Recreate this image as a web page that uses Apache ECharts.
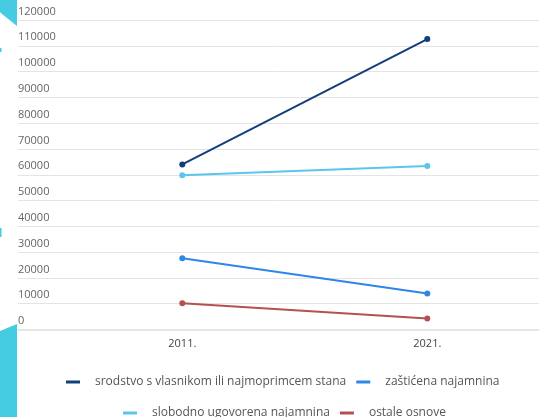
<!DOCTYPE html>
<html>
<head>
<meta charset="utf-8">
<script src="https://cdn.jsdelivr.net/npm/echarts@6/dist/echarts.min.js"></script>
<style>
  html, body { margin: 0; padding: 0; background: #fff; }
  #chart { width: 539px; height: 417px; }
</style>
</head>
<body>
<div id="chart"></div>
<script>
const years = ['2011.', '2021.']
const seriesNames = [
  'srodstvo s vlasnikom ili najmoprimcem stana',
  'zaštićena najamnina',
  'slobodno ugovorena najamnina',
  'ostale osnove',
]
const srodstvo = [64000, 112600]
const zasticena = [27600, 14000]
const slobodno = [59800, 63400]
const ostale = [10200, 4300]

const colors = ['#123f7c', '#2e86e8', '#5cc5ec', '#b4514f']
const values = [srodstvo, zasticena, slobodno, ostale]

const chart = echarts.init(document.getElementById('chart'))

const legendText = { fontFamily: 'Open Sans', fontSize: 12, color: '#555', padding: [0, 0, 0, 10] }

chart.setOption({
  backgroundColor: '#fff',
  animation: false,
  textStyle: { fontFamily: 'Open Sans' },
  grid: { top: 20, left: 18, right: 0, bottom: 87.5, containLabel: false },
  graphic: [
    { type: 'polygon', shape: { points: [[0, 0], [17, 0], [17, 26], [2, 14], [0, 12]] }, style: { fill: '#45cbe2' } },
    { type: 'rect', shape: { x: 0, y: 48, width: 1.5, height: 4 }, style: { fill: '#45cbe2' } },
    { type: 'rect', shape: { x: 0, y: 228, width: 1.5, height: 9 }, style: { fill: '#45cbe2' } },
    { type: 'polygon', shape: { points: [[0, 331], [17, 324], [17, 417], [0, 417]] }, style: { fill: '#45cbe2' } },
  ],
  legend: [
    {
      data: [seriesNames[0], seriesNames[1]],
      top: 376,
      left: 66,
      padding: 0,
      itemWidth: 14,
      itemHeight: 3,
      itemGap: 10,
      icon: 'rect',
      textStyle: legendText,
    },
    {
      data: [seriesNames[2], seriesNames[3]],
      top: 407,
      left: 123,
      padding: 0,
      itemWidth: 14,
      itemHeight: 3,
      itemGap: 10,
      icon: 'rect',
      textStyle: legendText,
    },
  ],
  xAxis: {
    type: 'value',
    min: -0.6706,
    max: 1.456,
    axisLine: { show: true, lineStyle: { color: '#e2e2e2', width: 1.5 } },
    axisTick: { show: false },
    splitLine: { show: false },
    axisLabel: {
      customValues: [0, 1],
      formatter: (v) => years[Math.round(v)],
      color: '#444',
      fontSize: 11,
      margin: 9,
    },
  },
  yAxis: {
    type: 'value',
    min: 0,
    max: 120000,
    interval: 10000,
    axisLine: { show: false },
    axisTick: { show: false },
    splitLine: { lineStyle: { color: '#e4e4e4', width: 1 } },
    axisLabel: {
      inside: true,
      margin: 0,
      align: 'left',
      verticalAlign: 'bottom',
      padding: [0, 0, 3, 0],
      color: '#666',
      fontSize: 11,
      formatter: (v) => String(v),
    },
  },
  series: seriesNames.map((name, i) => ({
    name,
    type: 'line',
    data: values[i].map((v, j) => [j, v]),
    symbol: 'circle',
    symbolSize: 6,
    lineStyle: { width: 2, color: colors[i] },
    itemStyle: { color: colors[i] },
  })),
})
</script>
</body>
</html>
